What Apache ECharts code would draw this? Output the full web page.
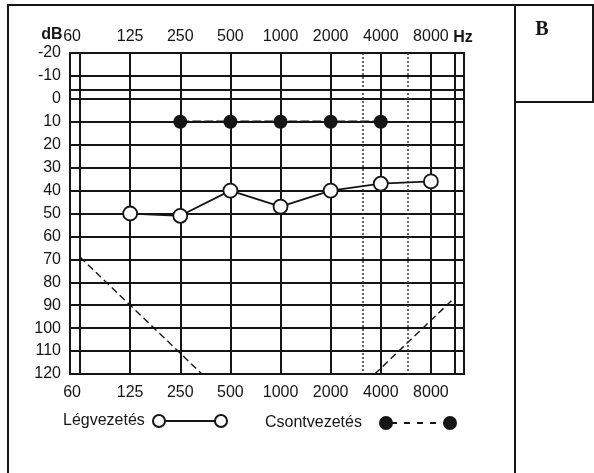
<!DOCTYPE html>
<html>
<head>
<meta charset="utf-8">
<script src="https://cdn.jsdelivr.net/npm/echarts@6/dist/echarts.min.js"></script>
<style>
    html, body { margin: 0; padding: 0; background: #fff; }
    #audiogram { width: 594px; height: 473px; }
</style>
</head>
<body>
<div id="audiogram"></div>
<script>
// frekvenciák (oktáv index a vízszintes tengelyen)
var freqLabels = ['60', '125', '250', '500', '1000', '2000', '4000', '8000'];
var freqPos = [0, 1, 2, 3, 4, 5, 6, 7];
var extraPos = [7.47];
var dottedPos = [5.64, 6.54];
var extraDb = [-4];

// légvezetés
var airPos = [1, 2, 3, 4, 5, 6, 7];
var airDb = [50, 51, 40, 47, 40, 37, 36];

// csontvezetés
var bonePos = [2, 3, 4, 5, 6];
var boneDb = [10, 10, 10, 10, 10];

// szaggatott határvonalak
var limitLeftPos = [0, 2.43];
var limitLeftDb = [69, 120];
var limitRightPos = [5.88, 7.46];
var limitRightDb = [120, 87];

var FONT = '"Liberation Sans", Arial, sans-serif';
var INK = '#151515';

function zip(xs, ys) {
    var out = [];
    for (var i = 0; i < xs.length; i++) {
        out.push([xs[i], ys[i]]);
    }
    return out;
}

function freqFormatter(v) {
    var i = Math.round(v);
    if (i === 0) {
        return '{first|' + freqLabels[i] + '}';
    }
    return freqLabels[i];
}

var labelRich = {
    first: { fontSize: 16, fontFamily: FONT, color: INK, padding: [0, 16, 0, 0] }
};

var gridLines = [];
freqPos.concat(extraPos).forEach(function (v) {
    gridLines.push({ xAxis: v, lineStyle: { type: 'solid', width: 2, color: INK } });
});
dottedPos.forEach(function (v) {
    gridLines.push({ xAxis: v, lineStyle: { type: [2, 2], width: 1.5, color: '#333' } });
});
extraDb.forEach(function (v) {
    gridLines.push({ yAxis: v, lineStyle: { type: 'solid', width: 2, color: INK } });
});

var chart = echarts.init(document.getElementById('audiogram'));
var option = {
    animation: false,
    backgroundColor: '#fff',
    grid: {
        left: 70,
        top: 53,
        width: 394,
        height: 321,
        show: true,
        borderColor: INK,
        borderWidth: 2
    },
    xAxis: [{
        type: 'value',
        position: 'top',
        min: -0.2,
        max: 7.66,
        axisLine: { show: false },
        axisTick: { show: false },
        splitLine: { show: false },
        axisLabel: {
            customValues: freqPos,
            formatter: freqFormatter,
            rich: labelRich,
            margin: 8,
            fontSize: 16,
            fontFamily: FONT,
            color: INK
        }
    }, {
        type: 'value',
        position: 'bottom',
        min: -0.2,
        max: 7.66,
        axisLine: { show: false },
        axisTick: { show: false },
        splitLine: { show: false },
        axisLabel: {
            customValues: freqPos,
            formatter: freqFormatter,
            rich: labelRich,
            margin: 11,
            fontSize: 16,
            fontFamily: FONT,
            color: INK
        }
    }],
    yAxis: {
        type: 'value',
        inverse: true,
        min: -20,
        max: 120,
        interval: 10,
        axisLine: { show: false },
        axisTick: { show: false },
        splitLine: { show: true, lineStyle: { color: INK, width: 2 } },
        axisLabel: { margin: 9, fontSize: 16, fontFamily: FONT, color: INK }
    },
    series: [{
        name: 'limitLeft',
        type: 'line',
        xAxisIndex: 1,
        z: 2,
        silent: true,
        symbol: 'none',
        lineStyle: { color: INK, width: 1.4, type: [7, 4] },
        data: zip(limitLeftPos, limitLeftDb),
        markLine: {
            silent: true,
            symbol: ['none', 'none'],
            label: { show: false },
            animation: false,
            data: gridLines
        }
    }, {
        name: 'limitRight',
        type: 'line',
        xAxisIndex: 1,
        z: 2,
        silent: true,
        symbol: 'none',
        lineStyle: { color: INK, width: 1.4, type: [7, 4] },
        data: zip(limitRightPos, limitRightDb)
    }, {
        name: 'Csontvezetés',
        type: 'line',
        xAxisIndex: 1,
        z: 4,
        symbol: 'circle',
        symbolSize: 14,
        lineStyle: { color: INK, width: 2.5, type: [9, 3] },
        itemStyle: { color: INK },
        data: zip(bonePos, boneDb)
    }, {
        name: 'Légvezetés',
        type: 'line',
        xAxisIndex: 1,
        z: 5,
        symbol: 'circle',
        symbolSize: 14,
        showAllSymbol: true,
        lineStyle: { color: INK, width: 1.8 },
        itemStyle: { color: '#fff', borderColor: INK, borderWidth: 1.8 },
        data: zip(airPos, airDb)
    }],
    graphic: [
        // keret
        { type: 'line', shape: { x1: 8, y1: 5, x2: 593, y2: 5 }, style: { stroke: INK, lineWidth: 2 } },
        { type: 'line', shape: { x1: 8, y1: 4, x2: 8, y2: 473 }, style: { stroke: INK, lineWidth: 2 } },
        { type: 'line', shape: { x1: 515, y1: 4, x2: 515, y2: 473 }, style: { stroke: INK, lineWidth: 2 } },
        { type: 'line', shape: { x1: 593, y1: 4, x2: 593, y2: 103 }, style: { stroke: INK, lineWidth: 2 } },
        { type: 'line', shape: { x1: 515, y1: 102, x2: 594, y2: 102 }, style: { stroke: INK, lineWidth: 2 } },
        { type: 'text', x: 542, y: 30, style: { text: 'B', fontSize: 20, fontWeight: 'bold', fontFamily: '"Liberation Serif", "Times New Roman", serif', fill: INK, align: 'center', verticalAlign: 'middle' } },
        // mértékegységek
        { type: 'text', x: 52, y: 35, style: { text: 'dB', fontSize: 16, fontWeight: 'bold', fontFamily: FONT, fill: INK, align: 'center', verticalAlign: 'middle' } },
        { type: 'text', x: 463, y: 38, style: { text: 'Hz', fontSize: 16, fontWeight: 'bold', fontFamily: FONT, fill: INK, align: 'center', verticalAlign: 'middle' } },
        // jelmagyarázat
        { type: 'text', x: 63, y: 421, style: { text: 'Légvezetés', fontSize: 16, fontFamily: FONT, fill: INK, align: 'left', verticalAlign: 'middle' } },
        { type: 'line', shape: { x1: 165, y1: 421, x2: 215, y2: 421 }, style: { stroke: INK, lineWidth: 2 } },
        { type: 'circle', shape: { cx: 159, cy: 421, r: 6 }, style: { fill: '#fff', stroke: INK, lineWidth: 2 } },
        { type: 'circle', shape: { cx: 221, cy: 421, r: 6 }, style: { fill: '#fff', stroke: INK, lineWidth: 2 } },
        { type: 'text', x: 265, y: 423, style: { text: 'Csontvezetés', fontSize: 16, fontFamily: FONT, fill: INK, align: 'left', verticalAlign: 'middle' } },
        { type: 'line', shape: { x1: 386, y1: 423, x2: 450, y2: 423 }, style: { stroke: INK, lineWidth: 2, lineDash: [6, 7], lineDashOffset: -5 } },
        { type: 'circle', shape: { cx: 386, cy: 423, r: 7 }, style: { fill: INK } },
        { type: 'circle', shape: { cx: 450, cy: 423, r: 7 }, style: { fill: INK } }
    ]
};
chart.setOption(option);
</script>
</body>
</html>
